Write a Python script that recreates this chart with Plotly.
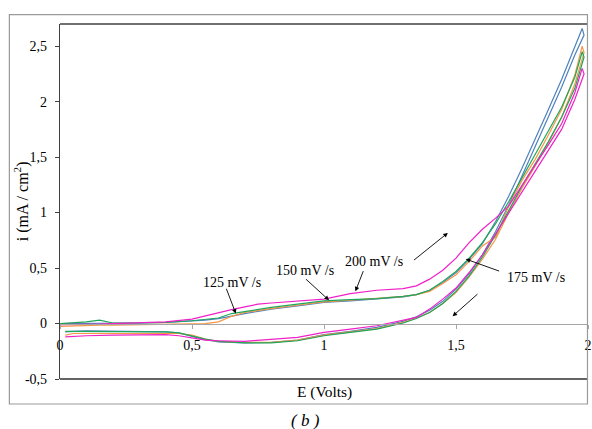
import plotly.graph_objects as go

# ---------------- data ----------------
# potential grid for the forward (anodic) and reverse (cathodic) scans, in V
E_forward = [0, 0.05, 0.1, 0.15, 0.2, 0.3, 0.4, 0.5, 0.55, 0.6, 0.65, 0.7, 0.75, 0.8, 0.9,
             1.0, 1.1, 1.2, 1.3, 1.35, 1.4, 1.45, 1.5, 1.55, 1.6, 1.65, 1.7, 1.75, 1.8,
             1.85, 1.9, 1.95, 1.978]
E_reverse = [1.985, 1.95, 1.9, 1.85, 1.8, 1.75, 1.7, 1.65, 1.6, 1.55, 1.5, 1.45, 1.4, 1.35,
             1.3, 1.2, 1.1, 1.0, 0.9, 0.8, 0.7, 0.6, 0.55, 0.5, 0.45, 0.4, 0.3, 0.2, 0.1,
             0.05, 0.02]

# current density (mA/cm2) per scan rate
i_blue_fwd = [0.0, 0.0, 0.005, 0.005, 0.0, 0.005, 0.01, 0.02, 0.03, 0.045, 0.07, 0.09, 0.11,
              0.13, 0.16, 0.19, 0.205, 0.22, 0.24, 0.26, 0.30, 0.37, 0.46, 0.58, 0.72, 0.92,
              1.15, 1.40, 1.66, 1.93, 2.20, 2.49, 2.66]
i_blue_rev = [2.60, 2.42, 2.13, 1.86, 1.59, 1.33, 1.07, 0.83, 0.62, 0.45, 0.31, 0.20, 0.12,
              0.06, 0.02, -0.035, -0.07, -0.10, -0.15, -0.17, -0.175, -0.165, -0.145, -0.115,
              -0.085, -0.075, -0.07, -0.068, -0.066, -0.07, -0.075]

i_orange_fwd = [-0.025, -0.02, -0.02, -0.015, -0.015, -0.01, -0.01, -0.005, 0.0, 0.015, 0.065,
                0.10, 0.12, 0.135, 0.165, 0.195, 0.21, 0.225, 0.245, 0.26, 0.29, 0.36, 0.44,
                0.56, 0.70, 0.78, 1.06, 1.29, 1.48, 1.70, 1.93, 2.24, 2.50]
i_orange_rev = [2.44, 2.16, 1.86, 1.63, 1.42, 1.22, 1.00, 0.76, 0.58, 0.42, 0.28, 0.18, 0.10,
                0.05, 0.01, -0.045, -0.075, -0.105, -0.15, -0.17, -0.17, -0.16, -0.14, -0.105,
                -0.09, -0.09, -0.085, -0.09, -0.085, -0.09, -0.105]

i_green_fwd = [0.0, 0.005, 0.015, 0.03, 0.005, 0.005, 0.01, 0.025, 0.035, 0.05, 0.09, 0.11,
               0.13, 0.145, 0.175, 0.205, 0.215, 0.225, 0.245, 0.26, 0.30, 0.38, 0.47, 0.59,
               0.73, 0.90, 1.10, 1.31, 1.52, 1.73, 1.95, 2.22, 2.45]
i_green_rev = [2.40, 2.12, 1.86, 1.64, 1.44, 1.24, 1.02, 0.80, 0.60, 0.43, 0.29, 0.18, 0.10,
               0.045, 0.005, -0.05, -0.08, -0.11, -0.155, -0.175, -0.175, -0.16, -0.14, -0.11,
               -0.085, -0.075, -0.075, -0.07, -0.07, -0.07, -0.07]

i_magenta_fwd = [-0.01, -0.01, -0.005, -0.005, 0.0, 0.005, 0.015, 0.04, 0.07, 0.10, 0.125,
                 0.15, 0.175, 0.185, 0.20, 0.22, 0.27, 0.30, 0.315, 0.34, 0.40, 0.48, 0.59,
                 0.73, 0.85, 0.95, 1.06, 1.25, 1.43, 1.61, 1.80, 2.08, 2.30]
i_magenta_rev = [2.25, 2.02, 1.75, 1.56, 1.38, 1.19, 1.00, 0.80, 0.62, 0.46, 0.32, 0.22, 0.13,
                 0.055, 0.03, -0.02, -0.05, -0.08, -0.125, -0.14, -0.16, -0.155, -0.15, -0.13,
                 -0.11, -0.10, -0.10, -0.105, -0.11, -0.115, -0.12]

series_names = ["125 mV/s", "150 mV/s", "175 mV/s", "200 mV/s"]
series_colors = ["#4F81BD", "#F79646", "#1FA65A", "#F020C8"]

x_tickvals = [0, 0.5, 1, 1.5, 2]
x_ticktext = ["0", "0,5", "1", "1,5", "2"]
y_tickvals = [-0.5, 0, 0.5, 1, 1.5, 2, 2.5]
y_ticktext = ["-0,5", "0", "0,5", "1", "1,5", "2", "2,5"]

# annotation labels: (text, x, y)
rate_labels = [("125 mV /s", 0.651, 0.369), ("150 mV /s", 0.927, 0.482),
               ("200 mV /s", 1.188, 0.561), ("175 mV /s", 1.804, 0.412)]
# arrows: (head_x, head_y, tail_x, tail_y)
arrows = [(0.666, 0.09, 0.628, 0.327), (1.019, 0.21, 0.926, 0.412),
          (1.119, 0.291, 1.151, 0.486), (1.469, 0.817, 1.335, 0.561),
          (1.537, 0.581, 1.669, 0.468), (1.487, 0.066, 1.587, 0.277)]

# ---------------- figure ----------------
FONT = "'Liberation Serif', 'Times New Roman', 'DejaVu Serif', serif"
fig = go.Figure()
series = [(i_blue_fwd, i_blue_rev), (i_orange_fwd, i_orange_rev),
          (i_green_fwd, i_green_rev), (i_magenta_fwd, i_magenta_rev)]
for (fwd, rev), name, col in zip(series, series_names, series_colors):
    fig.add_trace(go.Scatter(x=E_forward + E_reverse, y=fwd + rev, mode="lines", name=name,
                             line=dict(color=col, width=1.2), hoverinfo="skip"))

ymin, ymax = -0.5, 2.7
fig.update_layout(
    width=592, height=429,
    margin=dict(l=60, r=0, t=24, b=50),
    paper_bgcolor="white", plot_bgcolor="white",
    showlegend=False,
    font=dict(family=FONT, size=14, color="black"),
    xaxis=dict(range=[0, 2], anchor="free", position=(0 - ymin) / (ymax - ymin),
               showline=True, linecolor="#A6A6A6", linewidth=1.3,
               ticks="outside", ticklen=4, tickcolor="#A6A6A6",
               tickvals=x_tickvals, ticktext=x_ticktext, ticklabelstandoff=5,
               ticklabeloverflow="allow",
               showgrid=False, zeroline=False),
    yaxis=dict(range=[ymin, ymax], showline=True, linecolor="#404040", linewidth=1.3,
               ticks="outside", ticklen=4, tickcolor="#404040",
               tickvals=y_tickvals, ticktext=y_ticktext, ticklabelstandoff=5,
               showgrid=False, zeroline=False),
)

# plot frame (top / bottom) and outer chart border
fig.add_shape(type="line", xref="paper", yref="paper", x0=0, x1=1, y0=1, y1=1,
              line=dict(color="#404040", width=1.3))
fig.add_shape(type="line", xref="paper", yref="paper", x0=0, x1=1, y0=0, y1=0,
              line=dict(color="#303030", width=1.3))
fig.add_shape(type="rect", xref="paper", yref="paper", x0=-0.0959, x1=0.999,
              y0=-0.0704, y1=1.0262, line=dict(color="#9A9A9A", width=1.2))

for text, x, y in rate_labels:
    fig.add_annotation(x=x, y=y, text=text, showarrow=False, xanchor="center",
                       yanchor="middle", font=dict(family=FONT, size=14, color="black"))
for hx, hy, tx, ty in arrows:
    fig.add_annotation(x=hx, y=hy, ax=tx, ay=ty, axref="x", ayref="y", text="",
                       showarrow=True, arrowhead=2, arrowsize=1, arrowwidth=0.9,
                       arrowcolor="black")

fig.add_annotation(xref="paper", yref="paper", x=(21.5 - 60) / 532, y=0.5,
                   text="i (mA / cm<sup>2</sup>)", textangle=-90, showarrow=False,
                   xanchor="center", yanchor="middle", font=dict(family=FONT, size=16))
fig.add_annotation(xref="paper", yref="paper", x=(326 - 60) / 532, y=(379 - 392) / 355,
                   text="E (Volts)", showarrow=False, xanchor="center", yanchor="middle",
                   font=dict(family=FONT, size=15.5))
fig.add_annotation(xref="paper", yref="paper", x=(307.5 - 60) / 532, y=(379 - 420) / 355,
                   text="<i>( b )</i>", showarrow=False, xanchor="center", yanchor="middle",
                   font=dict(family=FONT, size=17))

fig.write_html("out.html")
